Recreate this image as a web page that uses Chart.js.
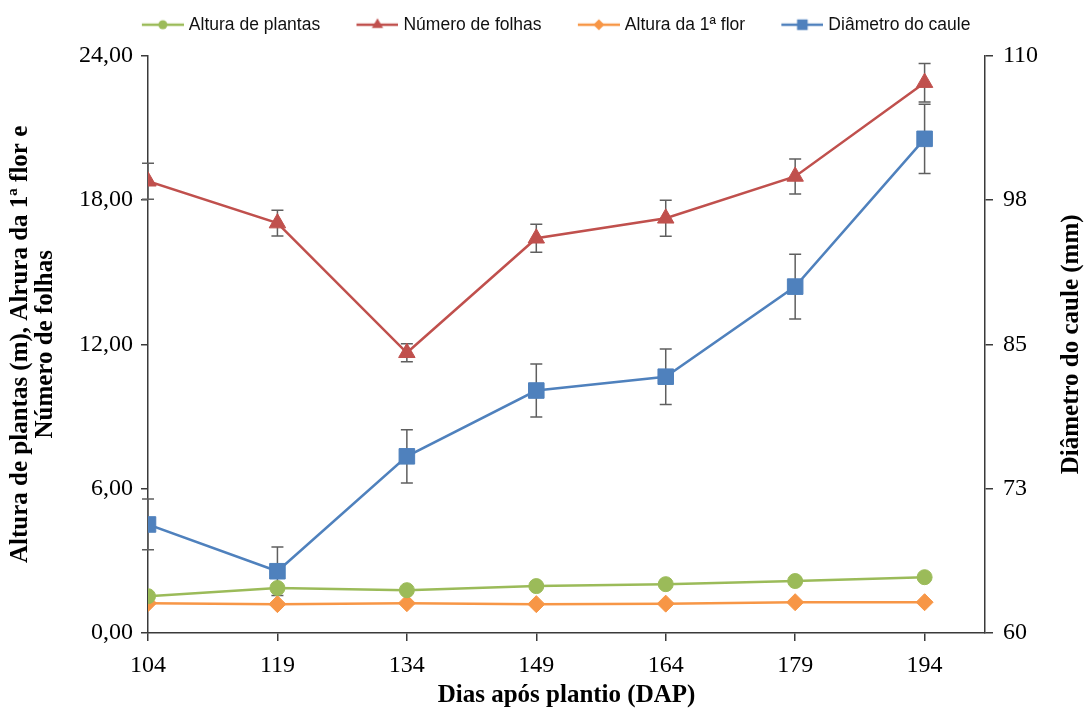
<!DOCTYPE html>
<html lang="pt">
<head>
  <meta charset="UTF-8">
  <title>Crescimento das plantas</title>
  <script src="https://cdn.jsdelivr.net/npm/chart.js"></script>
  <style>
    html, body { margin: 0; padding: 0; background: #fff; }
    #wrap { width: 1086px; height: 711px; }
  </style>
</head>
<body>
<div id="wrap"><canvas id="grafico"></canvas></div>
<script>
  // dados
  const dias = [104, 119, 134, 149, 164, 179, 194];
  const alturaPlantas = [1.53, 1.87, 1.78, 1.95, 2.03, 2.16, 2.32];
  const numeroFolhas = [18.78, 17.04, 11.65, 16.41, 17.24, 18.98, 22.88];
  const erroFolhas = [0.75, 0.54, 0.37, 0.58, 0.75, 0.73, 0.8];
  const alturaFlor = [1.24, 1.20, 1.24, 1.20, 1.22, 1.28, 1.28];
  const diametroCaule = [69.4, 65.35, 75.3, 81.0, 82.2, 90.0, 102.8];
  const erroDiametro = [2.2, 2.1, 2.3, 2.3, 2.4, 2.8, 3.0];
  const ticksEsquerda = [0, 6, 12, 18, 24];
  const ticksDireita = [60, 72.5, 85, 97.5, 110];

  const serif = "'Liberation Serif', 'Times New Roman', serif";
  const corEixo = '#3a3a3a';

  function pontos(valores) {
    return dias.map((d, i) => ({ x: d, y: valores[i] }));
  }

  // marcador da legenda: linha com o símbolo no meio (margem transparente à esquerda)
  function iconeLegenda(cor, forma, r) {
    const c = document.createElement('canvas');
    c.width = 72; c.height = 20;
    const g = c.getContext('2d');
    const cx = 51, cy = 10;
    g.strokeStyle = cor; g.fillStyle = cor; g.lineWidth = 2.5;
    g.beginPath(); g.moveTo(30, cy); g.lineTo(72, cy); g.stroke();
    g.beginPath();
    if (forma === 'circle') {
      g.arc(cx, cy, r, 0, Math.PI * 2);
    } else if (forma === 'triangle') {
      g.moveTo(cx, cy - r);
      g.lineTo(cx + r * 0.866, cy + r / 2);
      g.lineTo(cx - r * 0.866, cy + r / 2);
    } else if (forma === 'rectRot') {
      g.moveTo(cx - r, cy); g.lineTo(cx, cy - r); g.lineTo(cx + r, cy); g.lineTo(cx, cy + r);
    } else {
      const s = r * Math.SQRT1_2;
      g.rect(cx - s, cy - s, 2 * s, 2 * s);
    }
    g.closePath();
    g.fill();
    return c;
  }

  const barrasErro = {
    id: 'barrasErro',
    beforeDatasetsDraw(chart) {
      const ctx = chart.ctx;
      const x = chart.scales.x;
      chart.data.datasets.forEach((ds) => {
        if (!ds.erro) return;
        const y = chart.scales[ds.yAxisID];
        ctx.save();
        ctx.strokeStyle = '#5f5f5f';
        ctx.lineWidth = 1.5;
        ds.data.forEach((p, j) => {
          const px = x.getPixelForValue(p.x);
          const y1 = y.getPixelForValue(p.y + ds.erro[j]);
          const y2 = y.getPixelForValue(p.y - ds.erro[j]);
          ctx.beginPath();
          ctx.moveTo(px, y1); ctx.lineTo(px, y2);
          ctx.moveTo(px - 6, y1); ctx.lineTo(px + 6, y1);
          ctx.moveTo(px - 6, y2); ctx.lineTo(px + 6, y2);
          ctx.stroke();
        });
        ctx.restore();
      });
    }
  };

  const titulosY = {
    id: 'titulosY',
    afterDraw(chart) {
      const ctx = chart.ctx;
      const area = chart.chartArea;
      const meio = (area.top + area.bottom) / 2;
      ctx.save();
      ctx.fillStyle = '#000';
      ctx.font = 'bold 25px ' + serif;
      ctx.textAlign = 'center';
      ctx.textBaseline = 'middle';
      const linhas = [
        ['Altura de plantas (m), Alrura da 1ª flor e', 21],
        ['Número de folhas', 46],
        ['Diâmetro do caule (mm)', 1072]
      ];
      linhas.forEach(([texto, px]) => {
        ctx.save();
        ctx.translate(px, meio);
        ctx.rotate(-Math.PI / 2);
        ctx.fillText(texto, 0, 0);
        ctx.restore();
      });
      ctx.restore();
    }
  };

  const series = [
    { label: 'Altura de plantas', dados: alturaPlantas, cor: '#9bbb59', forma: 'circle', r: 7.5, rl: 4.5, eixo: 'y' },
    { label: 'Número de folhas', dados: numeroFolhas, cor: '#c0504d', forma: 'triangle', r: 9.5, rl: 6.5, eixo: 'y', erro: erroFolhas },
    { label: 'Altura da 1ª flor', dados: alturaFlor, cor: '#f79646', forma: 'rectRot', r: 8.5, rl: 5.5, eixo: 'y' },
    { label: 'Diâmetro do caule', dados: diametroCaule, cor: '#4f81bd', forma: 'rect', r: 11, rl: 7.5, eixo: 'y1', erro: erroDiametro }
  ];

  new Chart(document.getElementById('grafico'), {
    type: 'line',
    data: {
      datasets: series.map(s => ({
        label: s.label,
        data: pontos(s.dados),
        yAxisID: s.eixo,
        erro: s.erro,
        borderColor: s.cor,
        backgroundColor: s.cor,
        borderWidth: 2.5,
        pointStyle: s.forma,
        pointRadius: s.r,
        pointBorderWidth: 1,
        pointBackgroundColor: s.cor,
        pointBorderColor: s.cor,
        tension: 0,
        icone: iconeLegenda(s.cor, s.forma, s.rl)
      }))
    },
    options: {
      responsive: true,
      maintainAspectRatio: false,
      animation: false,
      layout: { padding: { top: 6, left: 0, right: 0, bottom: 0 } },
      plugins: {
        tooltip: { enabled: false },
        // título vazio só para abrir espaço entre a legenda e o gráfico
        title: { display: true, text: '', font: { size: 1 }, padding: { top: 0, bottom: 11 } },
        legend: {
          position: 'top',
          weight: 3000,
          labels: {
            usePointStyle: true,
            pointStyleWidth: 64.5,
            padding: 10,
            color: '#111',
            font: { family: "'Liberation Sans', Arial, sans-serif", size: 17.5 },
            generateLabels(chart) {
              return chart.data.datasets.map((ds, i) => ({
                text: ds.label,
                pointStyle: ds.icone,
                fillStyle: ds.borderColor,
                strokeStyle: ds.borderColor,
                lineWidth: 0,
                fontColor: '#111',
                datasetIndex: i
              }));
            }
          }
        }
      },
      scales: {
        x: {
          type: 'linear',
          min: 104,
          max: 201,
          afterBuildTicks: s => { s.ticks = dias.map(v => ({ value: v })); },
          afterFit: s => { s.height = 78; },
          ticks: { color: '#000', padding: 10, font: { family: serif, size: 24 }, callback: v => String(v) },
          grid: { drawOnChartArea: false, tickLength: 8, color: corEixo, lineWidth: 1.5 },
          border: { color: corEixo, width: 1.5 },
          title: {
            display: true,
            text: 'Dias após plantio (DAP)',
            color: '#000',
            font: { family: serif, size: 25, weight: 'bold' },
            padding: { top: 0, bottom: 0 }
          }
        },
        y: {
          position: 'left',
          min: 0,
          max: 24,
          afterBuildTicks: s => { s.ticks = ticksEsquerda.map(v => ({ value: v })); },
          afterFit: s => { s.width = 148; },
          ticks: {
            color: '#000', padding: 8, font: { family: serif, size: 24 },
            callback: v => v.toFixed(2).replace('.', ',')
          },
          grid: { drawOnChartArea: false, tickLength: 7, color: corEixo, lineWidth: 1.5 },
          border: { color: corEixo, width: 1.5 }
        },
        y1: {
          position: 'right',
          min: 60,
          max: 110,
          afterBuildTicks: s => { s.ticks = ticksDireita.map(v => ({ value: v })); },
          afterFit: s => { s.width = 101; },
          ticks: {
            color: '#000', padding: 10, font: { family: serif, size: 24 },
            callback: v => String(Math.round(v))
          },
          grid: { drawOnChartArea: false, tickLength: 8, color: corEixo, lineWidth: 1.5 },
          border: { color: corEixo, width: 1.5 }
        }
      }
    },
    plugins: [barrasErro, titulosY]
  });
</script>
</body>
</html>
